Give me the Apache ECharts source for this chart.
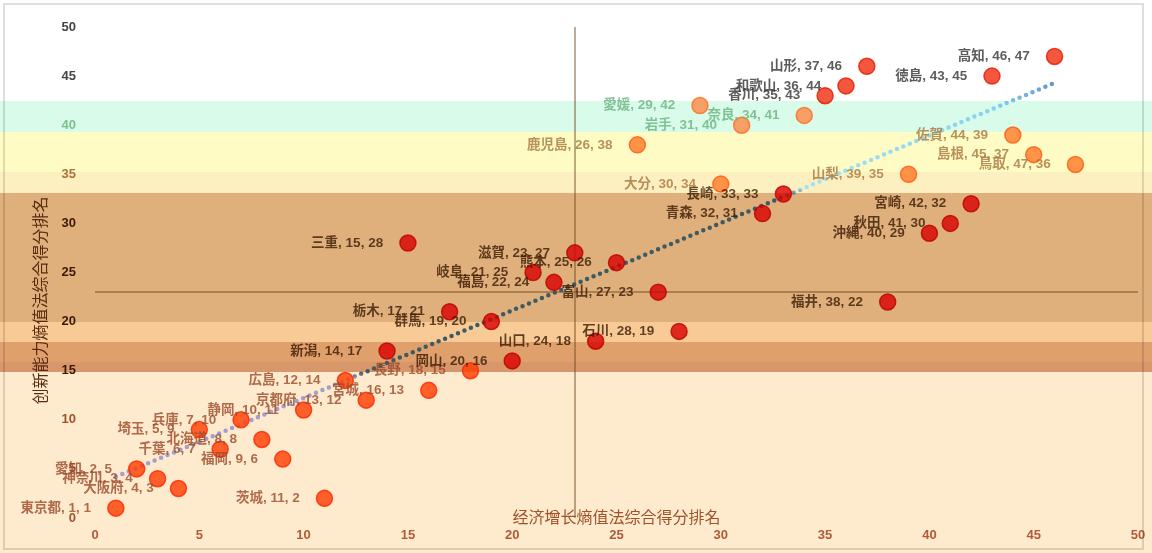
<!DOCTYPE html>
<html>
<head>
<meta charset="utf-8">
<script src="https://cdn.jsdelivr.net/npm/echarts@6/dist/echarts.min.js"></script>
<style>
html,body{margin:0;padding:0;background:#fff;}
#main{width:1152px;height:553px;}
</style>
</head>
<body>
<div id="main"></div>
<script>
// ---- data ----
const prefectures = ['東京都','愛知','神奈川','大阪府','埼玉','千葉','兵庫','北海道','福岡','静岡','茨城','広島','京都府','新潟','三重','宮城','栃木','長野','群馬','岡山','岐阜','福島','滋賀','山口','熊本','鹿児島','富山','石川','愛媛','大分','岩手','青森','長崎','奈良','香川','和歌山','山形','福井','山梨','沖縄','秋田','宮崎','徳島','佐賀','島根','高知','鳥取'];
const econRank = [1,2,3,4,5,6,7,8,9,10,11,12,13,14,15,16,17,18,19,20,21,22,23,24,25,26,27,28,29,30,31,32,33,34,35,36,37,38,39,40,41,42,43,44,45,46,47];
const innovRank = [1,5,4,3,9,7,10,8,6,11,2,14,12,17,28,13,21,15,20,16,25,24,27,18,26,38,23,19,42,34,40,31,33,41,43,44,46,22,35,29,30,32,45,39,37,47,36];
const trendLine = [[1, 4.2], [46, 44.3]];
const meanX = 23;
const meanY = 23;
const xName = '经济增长熵值法综合得分排名';
const yName = '创新能力熵值法综合得分排名';

// ---- styling helpers ----
function zoneOf(v){
  if (v >= 43) return 'top';
  if (v >= 40) return 'mint';
  if (v >= 34) return 'yellow';
  if (v >= 16) return 'tan';
  return 'cream';
}
const pointFill = {top:'#f22d0e', mint:'#ff8a45', yellow:'#ff7a28', tan:'#d80000', cream:'#ff3d00'};
const pointBorder = {top:'#e31a00', mint:'#ff6a25', yellow:'#ff5a10', tan:'#bb0000', cream:'#ff2400'};
const labelColor = {top:'#333333', mint:'#6db381', yellow:'#a8773f', tan:'#3b1a05', cream:'#9a4a2a'};
const tickColor = {top:'#444444', mint:'#7cc08c', yellow:'#b0703a', tan:'#3b1a05', cream:'#a0522d'};

const bands = [
  {y0:101, y1:132, c:'#d8fbea'},
  {y0:132, y1:172, c:'#fefbc5'},
  {y0:172, y1:193, c:'#fdf0c0'},
  {y0:193, y1:322, c:'#dfb07b'},
  {y0:322, y1:342, c:'#f8cb96'},
  {y0:342, y1:362, c:'#e0a06c'},
  {y0:362, y1:372, c:'#d8976a'},
  {y0:372, y1:553, c:'#feebcd'}
];

const points = prefectures.map((n, i) => {
  const z = zoneOf(innovRank[i]);
  return {
    name: n,
    value: [econRank[i], innovRank[i]],
    itemStyle: {color: pointFill[z], borderColor: pointBorder[z], borderWidth: 1.5},
    label: {color: labelColor[z]}
  };
});

const chart = echarts.init(document.getElementById('main'), null, {renderer:'canvas'});
const FONT = '"Liberation Sans", "Noto Sans CJK JP", sans-serif';

chart.setOption({
  backgroundColor: '#ffffff',
  animation: false,
  graphic: bands.map(b => ({
    type: 'rect', z: -10, silent: true,
    shape: {x: 0, y: b.y0, width: 1152, height: b.y1 - b.y0},
    style: {fill: b.c}
  })).concat([{
    type: 'rect', z: 100, silent: true,
    shape: {x: 4, y: 4, width: 1139, height: 545},
    style: {fill: 'none', stroke: 'rgba(0,0,0,0.13)', lineWidth: 2}
  }]),
  grid: {left: 95, right: 14, top: 27, bottom: 35, containLabel: false, outerBoundsMode: 'none'},
  xAxis: {
    type: 'value', min: 0, max: 50, interval: 5,
    name: xName, nameLocation: 'middle', nameGap: 1, nameMoveOverlap: false,
    nameTextStyle: {color: '#a0522d', fontSize: 16, fontFamily: FONT, verticalAlign: 'middle'},
    axisLine: {show: false}, axisTick: {show: false}, splitLine: {show: false},
    axisLabel: {color: '#b05a3a', fontWeight: 'bold', fontSize: 13, margin: 11, fontFamily: FONT}
  },
  yAxis: {
    type: 'value', min: 0, max: 50, interval: 5,
    name: yName, nameLocation: 'middle', nameGap: 45, nameRotate: 90, nameMoveOverlap: false,
    nameTextStyle: {color: '#5a2a10', fontSize: 16, fontFamily: FONT, padding: [0, 56, 0, 0]},
    axisLine: {show: false}, axisTick: {show: false}, splitLine: {show: false},
    axisLabel: {
      fontWeight: 'bold', fontSize: 13, margin: 19, fontFamily: FONT,
      color: v => tickColor[zoneOf(+v === 15 ? 16 : +v)]
    }
  },
  series: [
    {
      type: 'line',
      data: trendLine,
      symbol: 'none',
      z: 3,
      lineStyle: {
        width: 4.5, type: [0, 7], cap: 'round',
        color: new echarts.graphic.LinearGradient(0, 1, 0, 0, [
          {offset: 0, color: '#a29ed0'},
          {offset: 0.25, color: '#a29ed0'},
          {offset: 0.27, color: '#3e5a64'},
          {offset: 0.71, color: '#3e5a64'},
          {offset: 0.73, color: '#a6e3f6'},
          {offset: 0.93, color: '#86d2f2'},
          {offset: 1, color: '#5b8fd0'}
        ])
      }
    },
    {
      type: 'scatter',
      data: points,
      symbolSize: 16,
      z: 4,
      label: {
        show: true, position: 'left', distance: 16,
        fontSize: 13.5, fontWeight: 'bold', fontFamily: FONT,
        formatter: p => p.name + ', ' + p.value[0] + ', ' + p.value[1]
      },
      labelLayout: {hideOverlap: false},
      markLine: {
        silent: true, symbol: 'none', z: 1,
        label: {show: false},
        lineStyle: {color: 'rgba(110,70,30,0.45)', width: 2, type: 'solid'},
        data: [{xAxis: meanX}, {yAxis: meanY}]
      }
    }
  ]
});
</script>
</body>
</html>
